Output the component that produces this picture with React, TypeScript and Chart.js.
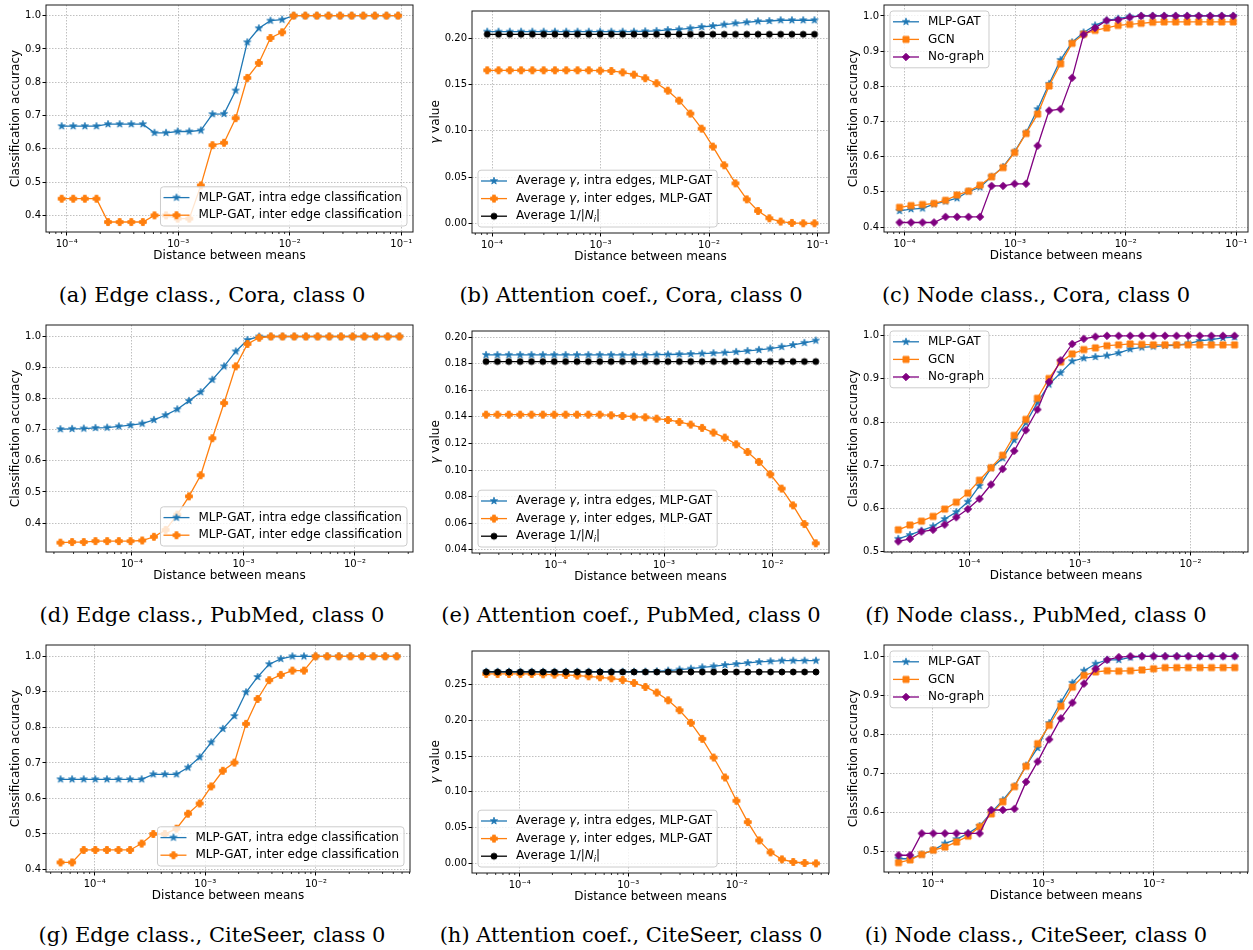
import React, { useEffect, useRef } from 'react';
import { Chart, registerables } from 'chart.js';

Chart.register(...registerables);

// ---------- x values (distance between means) ----------
const xCora = [9.02e-5, 1.146e-4, 1.456e-4, 1.85e-4, 2.351e-4, 2.987e-4, 3.795e-4, 4.822e-4, 6.127e-4, 7.785e-4,
  9.891e-4, 1.257e-3, 1.597e-3, 2.029e-3, 2.578e-3, 3.276e-3, 4.162e-3, 5.288e-3, 6.719e-3, 8.537e-3,
  1.085e-2, 1.378e-2, 1.751e-2, 2.225e-2, 2.827e-2, 3.592e-2, 4.564e-2, 5.799e-2, 7.368e-2, 9.362e-2];
const xPubMed = [2.286e-5, 2.91e-5, 3.704e-5, 4.715e-5, 6.001e-5, 7.639e-5, 9.724e-5, 1.2378e-4, 1.5756e-4, 2.0056e-4,
  2.5529e-4, 3.2496e-4, 4.1364e-4, 5.2652e-4, 6.7021e-4, 8.5311e-4, 1.0859e-3, 1.3823e-3, 1.7595e-3, 2.2397e-3,
  2.8509e-3, 3.6289e-3, 4.6192e-3, 5.8798e-3, 7.4844e-3, 9.5269e-3, 1.2127e-2, 1.5436e-2, 1.9649e-2, 2.5011e-2];
const xCiteSeer = [4.91e-5, 6.25e-5, 7.956e-5, 1.0127e-4, 1.289e-4, 1.6408e-4, 2.0886e-4, 2.6586e-4, 3.3841e-4, 4.3076e-4,
  5.4832e-4, 6.9796e-4, 8.8843e-4, 1.1309e-3, 1.4395e-3, 1.8324e-3, 2.3324e-3, 2.9689e-3, 3.7791e-3, 4.8105e-3,
  6.1232e-3, 7.7943e-3, 9.9213e-3, 1.2629e-2, 1.6075e-2, 2.0462e-2, 2.6046e-2, 3.3154e-2, 4.2202e-2, 5.3719e-2];

// ---------- tick values ----------
const xTicksCora = [1e-4, 1e-3, 1e-2, 1e-1];
const xTicksPubMed = [1e-4, 1e-3, 1e-2];
const xTicksCiteSeer = [1e-4, 1e-3, 1e-2];
const accTicks04 = [0.4, 0.5, 0.6, 0.7, 0.8, 0.9, 1.0];
const accTicks05 = [0.5, 0.6, 0.7, 0.8, 0.9, 1.0];
const gammaTicksCora = [0, 0.05, 0.1, 0.15, 0.2];
const gammaTicksPubMed = [0.04, 0.06, 0.08, 0.1, 0.12, 0.14, 0.16, 0.18, 0.2];
const gammaTicksCiteSeer = [0, 0.05, 0.1, 0.15, 0.2, 0.25];

// ---------- Cora ----------
const coraEdgeIntra = [0.668, 0.668, 0.668, 0.668, 0.674, 0.674, 0.674, 0.674, 0.648, 0.648, 0.652, 0.652, 0.655, 0.704, 0.705,
  0.775, 0.92, 0.962, 0.985, 0.988, 1, 1, 1, 1, 1, 1, 1, 1, 1, 1];
const coraEdgeInter = [0.45, 0.45, 0.45, 0.45, 0.38, 0.38, 0.38, 0.38, 0.4, 0.4, 0.39, 0.39, 0.49, 0.611, 0.618,
  0.692, 0.813, 0.858, 0.933, 0.95, 1, 1, 1, 1, 1, 1, 1, 1, 1, 1];
const coraAttIntra = [0.2072, 0.2072, 0.2072, 0.2072, 0.2072, 0.2072, 0.2072, 0.2072, 0.2072, 0.2072, 0.2072, 0.2072, 0.2072, 0.2072,
  0.2076, 0.208, 0.209, 0.2097, 0.2108, 0.2123, 0.2133, 0.2148, 0.2162, 0.2173, 0.2184, 0.2187, 0.2195, 0.2195, 0.2195, 0.2195];
const coraAttInter = [0.1654, 0.1654, 0.1654, 0.1654, 0.1654, 0.1654, 0.1654, 0.1654, 0.1654, 0.1654, 0.165, 0.1647, 0.1632, 0.1607,
  0.1568, 0.1514, 0.1434, 0.1326, 0.1186, 0.1023, 0.0829, 0.0627, 0.0432, 0.0259, 0.0133, 0.0054, 0.0018, 0.0004, 0, 0];
const coraAttDegree = [0.2043, 0.2043, 0.2043, 0.2043, 0.2043, 0.2043, 0.2043, 0.2043, 0.2043, 0.2043, 0.2043, 0.2043, 0.2043, 0.2043, 0.2043,
  0.2043, 0.2043, 0.2043, 0.2043, 0.2043, 0.2043, 0.2043, 0.2043, 0.2043, 0.2043, 0.2043, 0.2043, 0.2043, 0.2043, 0.2043];
const coraNodeMlp = [0.446, 0.451, 0.453, 0.465, 0.473, 0.482, 0.501, 0.513, 0.543, 0.571, 0.614, 0.668, 0.735, 0.807, 0.875,
  0.925, 0.953, 0.973, 0.987, 0.992, 0.998, 1, 1, 1, 1, 1, 1, 1, 1, 1];
const coraNodeGcn = [0.456, 0.461, 0.464, 0.467, 0.476, 0.491, 0.502, 0.519, 0.543, 0.569, 0.612, 0.666, 0.721, 0.801, 0.864,
  0.922, 0.948, 0.959, 0.966, 0.973, 0.976, 0.979, 0.982, 0.983, 0.983, 0.983, 0.983, 0.983, 0.983, 0.983];
const coraNodeNoGraph = [0.413, 0.413, 0.413, 0.413, 0.429, 0.429, 0.429, 0.429, 0.517, 0.517, 0.523, 0.523, 0.631, 0.731, 0.735,
  0.824, 0.947, 0.966, 0.987, 0.989, 0.996, 1, 1, 1, 1, 1, 1, 1, 1, 1];

// ---------- PubMed ----------
const pubEdgeIntra = [0.702, 0.703, 0.704, 0.706, 0.707, 0.711, 0.715, 0.72, 0.732, 0.747, 0.766, 0.793, 0.821, 0.861, 0.904,
  0.952, 0.989, 1, 1, 1, 1, 1, 1, 1, 1, 1, 1, 1, 1, 1];
const pubEdgeInter = [0.337, 0.339, 0.339, 0.342, 0.342, 0.342, 0.342, 0.344, 0.356, 0.378, 0.427, 0.486, 0.554, 0.673, 0.786,
  0.904, 0.976, 0.996, 1, 1, 1, 1, 1, 1, 1, 1, 1, 1, 1, 1];
const pubAttIntra = [0.1867, 0.1867, 0.1867, 0.1867, 0.1867, 0.1867, 0.1867, 0.1867, 0.1867, 0.1867, 0.1867, 0.1867, 0.1867, 0.1867, 0.1867,
  0.1869, 0.187, 0.1872, 0.1874, 0.1877, 0.188, 0.1884, 0.189, 0.1897, 0.1905, 0.1915, 0.1928, 0.1942, 0.1958, 0.1975];
const pubAttInter = [0.1417, 0.1417, 0.1417, 0.1417, 0.1417, 0.1417, 0.1417, 0.1417, 0.1417, 0.1417, 0.1417, 0.1412, 0.1407, 0.1402, 0.1397,
  0.1387, 0.1377, 0.1362, 0.1342, 0.1317, 0.1282, 0.1244, 0.1194, 0.1136, 0.1061, 0.0968, 0.086, 0.0734, 0.0593, 0.0448];
const pubAttDegree = [0.1817, 0.1817, 0.1817, 0.1817, 0.1817, 0.1817, 0.1817, 0.1817, 0.1817, 0.1817, 0.1817, 0.1817, 0.1817, 0.1817, 0.1817,
  0.1817, 0.1817, 0.1817, 0.1817, 0.1817, 0.1817, 0.1817, 0.1817, 0.1817, 0.1817, 0.1817, 0.1817, 0.1817, 0.1817, 0.1817];
const pubNodeMlp = [0.529, 0.538, 0.548, 0.558, 0.575, 0.591, 0.615, 0.652, 0.693, 0.716, 0.758, 0.798, 0.845, 0.887, 0.914,
  0.941, 0.948, 0.951, 0.954, 0.96, 0.969, 0.973, 0.975, 0.977, 0.978, 0.982, 0.988, 0.991, 0.995, 0.997];
const pubNodeGcn = [0.55, 0.561, 0.57, 0.581, 0.598, 0.614, 0.635, 0.665, 0.694, 0.723, 0.769, 0.806, 0.855, 0.901, 0.939,
  0.958, 0.968, 0.972, 0.977, 0.979, 0.981, 0.98, 0.979, 0.979, 0.979, 0.979, 0.979, 0.979, 0.979, 0.979];
const pubNodeNoGraph = [0.523, 0.529, 0.546, 0.55, 0.562, 0.579, 0.598, 0.622, 0.655, 0.691, 0.733, 0.781, 0.829, 0.893, 0.943,
  0.981, 0.993, 0.998, 1, 1, 1, 1, 1, 1, 1, 1, 1, 1, 1, 1];

// ---------- CiteSeer ----------
const citeEdgeIntra = [0.654, 0.654, 0.654, 0.654, 0.654, 0.654, 0.654, 0.654, 0.668, 0.668, 0.668, 0.687, 0.716, 0.758, 0.796,
  0.832, 0.899, 0.942, 0.978, 0.993, 1, 1, 1, 1, 1, 1, 1, 1, 1, 1];
const citeEdgeInter = [0.42, 0.42, 0.455, 0.455, 0.455, 0.455, 0.455, 0.473, 0.5, 0.5, 0.515, 0.557, 0.586, 0.634, 0.678,
  0.701, 0.81, 0.88, 0.933, 0.948, 0.96, 0.96, 1, 1, 1, 1, 1, 1, 1, 1];
const citeAttIntra = [0.268, 0.268, 0.268, 0.268, 0.268, 0.268, 0.268, 0.268, 0.268, 0.268, 0.268, 0.268, 0.268, 0.268,
  0.2682, 0.2686, 0.2696, 0.271, 0.2723, 0.2742, 0.2756, 0.2775, 0.2789, 0.2803, 0.2817, 0.2826, 0.2835, 0.2835, 0.2835, 0.2835];
const citeAttInter = [0.2649, 0.2649, 0.2649, 0.2649, 0.2649, 0.2644, 0.264, 0.2635, 0.2626, 0.2616, 0.2602, 0.2588, 0.2565, 0.2523, 0.2467,
  0.2388, 0.2281, 0.2142, 0.1965, 0.1741, 0.148, 0.1201, 0.0875, 0.0577, 0.0321, 0.0154, 0.0056, 0.0019, 0.0005, 0];
const citeAttDegree = [0.2677, 0.2677, 0.2677, 0.2677, 0.2677, 0.2677, 0.2677, 0.2677, 0.2677, 0.2677, 0.2677, 0.2677, 0.2677, 0.2677, 0.2677,
  0.2677, 0.2677, 0.2677, 0.2677, 0.2677, 0.2677, 0.2677, 0.2677, 0.2677, 0.2677, 0.2677, 0.2677, 0.2677, 0.2677, 0.2677];
const citeNodeMlp = [0.481, 0.481, 0.492, 0.503, 0.52, 0.531, 0.546, 0.565, 0.599, 0.631, 0.667, 0.72, 0.765, 0.829, 0.882,
  0.932, 0.963, 0.981, 0.991, 0.991, 0.997, 1, 1, 1, 1, 1, 1, 1, 1, 1];
const citeNodeGcn = [0.471, 0.478, 0.492, 0.503, 0.511, 0.524, 0.539, 0.563, 0.596, 0.627, 0.666, 0.718, 0.776, 0.823, 0.872,
  0.921, 0.951, 0.96, 0.963, 0.962, 0.963, 0.965, 0.968, 0.971, 0.971, 0.971, 0.971, 0.971, 0.971, 0.971];
const citeNodeNoGraph = [0.49, 0.49, 0.546, 0.546, 0.546, 0.546, 0.546, 0.546, 0.606, 0.606, 0.609, 0.678, 0.73, 0.787, 0.841,
  0.881, 0.93, 0.968, 0.991, 0.998, 1, 1, 1, 1, 1, 1, 1, 1, 1, 1];

// ---------- labels ----------
const captions = [
  '(a) Edge class., Cora, class 0', '(b) Attention coef., Cora, class 0', '(c) Node class., Cora, class 0',
  '(d) Edge class., PubMed, class 0', '(e) Attention coef., PubMed, class 0', '(f) Node class., PubMed, class 0',
  '(g) Edge class., CiteSeer, class 0', '(h) Attention coef., CiteSeer, class 0', '(i) Node class., CiteSeer, class 0',
];

type Seg = { t: string; it?: boolean; sub?: boolean };
type Marker = 'star' | 'plus' | 'circle' | 'square' | 'diamond';
type Series = { label: Seg[]; data: number[]; color: string; marker: Marker };
type PanelCfg = {
  col: number; frame: { L: number; R: number; T: number; B: number };
  x: number[]; xMin: number; xMax: number; xTicks: number[];
  yMin: number; yMax: number; yTicks: number[]; yDec: number;
  yTitle: Seg[]; series: Series[]; legendPos: 'lr' | 'll' | 'ul';
};

const BLUE = '#1f77b4';
const ORANGE = '#ff7f0e';
const PURPLE = '#800080';
const BLACK = '#000000';
const FONT = '"DejaVu Sans", sans-serif';

const accTitle: Seg[] = [{ t: 'Classification accuracy' }];
const gammaTitle: Seg[] = [{ t: 'γ', it: true }, { t: ' value' }];
const edgeSeries = (intra: number[], inter: number[]): Series[] => [
  { label: [{ t: 'MLP-GAT, intra edge classification' }], data: intra, color: BLUE, marker: 'star' },
  { label: [{ t: 'MLP-GAT, inter edge classification' }], data: inter, color: ORANGE, marker: 'plus' },
];
const attSeries = (intra: number[], inter: number[], deg: number[]): Series[] => [
  { label: [{ t: 'Average ' }, { t: 'γ', it: true }, { t: ', intra edges, MLP-GAT' }], data: intra, color: BLUE, marker: 'star' },
  { label: [{ t: 'Average ' }, { t: 'γ', it: true }, { t: ', inter edges, MLP-GAT' }], data: inter, color: ORANGE, marker: 'plus' },
  { label: [{ t: 'Average 1/|' }, { t: 'N', it: true }, { t: 'i', it: true, sub: true }, { t: '|' }], data: deg, color: BLACK, marker: 'circle' },
];
const nodeSeries = (mlp: number[], gcn: number[], no: number[]): Series[] => [
  { label: [{ t: 'MLP-GAT' }], data: mlp, color: BLUE, marker: 'star' },
  { label: [{ t: 'GCN' }], data: gcn, color: ORANGE, marker: 'square' },
  { label: [{ t: 'No-graph' }], data: no, color: PURPLE, marker: 'diamond' },
];

const rowX = [
  { x: xCora, xMin: 6.53e-5, xMax: 0.1274, xTicks: xTicksCora },
  { x: xPubMed, xMin: 1.698e-5, xMax: 3.311e-2, xTicks: xTicksPubMed },
  { x: xCiteSeer, xMin: 3.63e-5, xMax: 7.08e-2, xTicks: xTicksCiteSeer },
];

const panels: PanelCfg[] = [
  { col: 0, frame: { L: 46, R: 413, T: 5, B: 232 }, ...rowX[0], yMin: 0.35, yMax: 1.032, yTicks: accTicks04, yDec: 1,
    yTitle: accTitle, series: edgeSeries(coraEdgeIntra, coraEdgeInter), legendPos: 'lr' },
  { col: 1, frame: { L: 472, R: 829, T: 11, B: 233 }, ...rowX[0], yMin: -0.0105, yMax: 0.2295, yTicks: gammaTicksCora, yDec: 2,
    yTitle: gammaTitle, series: attSeries(coraAttIntra, coraAttInter, coraAttDegree), legendPos: 'll' },
  { col: 2, frame: { L: 884, R: 1248, T: 5, B: 232 }, ...rowX[0], yMin: 0.386, yMax: 1.031, yTicks: accTicks04, yDec: 1,
    yTitle: accTitle, series: nodeSeries(coraNodeMlp, coraNodeGcn, coraNodeNoGraph), legendPos: 'ul' },
  { col: 0, frame: { L: 46, R: 413, T: 325, B: 552 }, ...rowX[1], yMin: 0.307, yMax: 1.037, yTicks: accTicks04, yDec: 1,
    yTitle: accTitle, series: edgeSeries(pubEdgeIntra, pubEdgeInter), legendPos: 'lr' },
  { col: 1, frame: { L: 472, R: 829, T: 331, B: 553 }, ...rowX[1], yMin: 0.0375, yMax: 0.2047, yTicks: gammaTicksPubMed, yDec: 2,
    yTitle: gammaTitle, series: attSeries(pubAttIntra, pubAttInter, pubAttDegree), legendPos: 'll' },
  { col: 2, frame: { L: 884, R: 1248, T: 325, B: 552 }, ...rowX[1], yMin: 0.4985, yMax: 1.025, yTicks: accTicks05, yDec: 1,
    yTitle: accTitle, series: nodeSeries(pubNodeMlp, pubNodeGcn, pubNodeNoGraph), legendPos: 'ul' },
  { col: 0, frame: { L: 46, R: 410, T: 645, B: 872 }, ...rowX[2], yMin: 0.393, yMax: 1.032, yTicks: accTicks04, yDec: 1,
    yTitle: accTitle, series: edgeSeries(citeEdgeIntra, citeEdgeInter), legendPos: 'lr' },
  { col: 1, frame: { L: 472, R: 829, T: 651, B: 873 }, ...rowX[2], yMin: -0.0135, yMax: 0.297, yTicks: gammaTicksCiteSeer, yDec: 2,
    yTitle: gammaTitle, series: attSeries(citeAttIntra, citeAttInter, citeAttDegree), legendPos: 'll' },
  { col: 2, frame: { L: 884, R: 1248, T: 645, B: 872 }, ...rowX[2], yMin: 0.447, yMax: 1.029, yTicks: accTicks05, yDec: 1,
    yTitle: accTitle, series: nodeSeries(citeNodeMlp, citeNodeGcn, citeNodeNoGraph), legendPos: 'ul' },
];

const COLS = [[0, 420], [420, 835], [835, 1253]];
const Y_TITLE_X = [16, 436, 854];
const X_TITLE_GAP = 23.7;
const CAPTION_X = [212, 631, 1036];
const CAPTION_Y = [295, 615, 935];

// ---------- helpers ----------
const SUP: Record<string, string> = { '-': '⁻', '0': '⁰', '1': '¹', '2': '²', '3': '³', '4': '⁴', '5': '⁵', '6': '⁶', '7': '⁷', '8': '⁸', '9': '⁹' };
const fmtPow = (v: number) => '10' + String(Math.round(Math.log10(v))).split('').map((ch) => SUP[ch] || ch).join('');

function makeMarker(kind: Marker, color: string): HTMLCanvasElement {
  const c = document.createElement('canvas');
  c.width = 14; c.height = 14;
  const g = c.getContext('2d')!;
  g.translate(7, 7);
  g.fillStyle = color; g.strokeStyle = color; g.lineWidth = 1; g.lineJoin = 'miter';
  g.beginPath();
  if (kind === 'star') {
    const R = 3.8, r = R * 0.381966;
    for (let k = 0; k < 10; k++) {
      const rad = k % 2 ? r : R;
      const ang = -Math.PI / 2 + (k * Math.PI) / 5;
      const px = rad * Math.cos(ang), py = rad * Math.sin(ang);
      if (k === 0) g.moveTo(px, py); else g.lineTo(px, py);
    }
    g.lineWidth = 0.8;
  } else if (kind === 'plus') {
    const h = 3.4, a = 1.4;
    const pts = [[-a, -h], [a, -h], [a, -a], [h, -a], [h, a], [a, a], [a, h], [-a, h], [-a, a], [-h, a], [-h, -a], [-a, -a]];
    pts.forEach(([px, py], k) => (k === 0 ? g.moveTo(px, py) : g.lineTo(px, py)));
  } else if (kind === 'circle') {
    g.arc(0, 0, 3, 0, Math.PI * 2);
  } else if (kind === 'square') {
    g.rect(-3, -3, 6, 6);
  } else {
    const d = 3.7;
    g.moveTo(0, -d); g.lineTo(d, 0); g.lineTo(0, d); g.lineTo(-d, 0);
  }
  g.closePath(); g.fill(); g.stroke();
  return c;
}

const segFont = (s: Seg, size: number) => `${s.it ? 'italic ' : ''}${s.sub ? size * 0.7 : size}px ${FONT}`;
function measureSegs(ctx: CanvasRenderingContext2D, segs: Seg[], size: number) {
  let w = 0;
  for (const s of segs) { ctx.font = segFont(s, size); w += ctx.measureText(s.t).width; }
  return w;
}
function drawSegs(ctx: CanvasRenderingContext2D, segs: Seg[], x: number, y: number, size: number) {
  ctx.textBaseline = 'middle'; ctx.textAlign = 'left'; ctx.fillStyle = '#000';
  let cx = x;
  for (const s of segs) {
    ctx.font = segFont(s, size);
    ctx.fillText(s.t, cx, s.sub ? y + size * 0.3 : y);
    cx += ctx.measureText(s.t).width;
  }
}

function makeDecor(p: PanelCfg, markers: HTMLCanvasElement[], yTitleX: number, xTitleY: number) {
  return {
    id: 'decor',
    afterDatasetsDraw(chart: any) {
      const ctx: CanvasRenderingContext2D = chart.ctx;
      const a = chart.chartArea;
      ctx.save();
      // frame
      ctx.strokeStyle = '#1a1a1a'; ctx.lineWidth = 1;
      ctx.strokeRect(a.left, a.top, a.right - a.left, a.bottom - a.top);
      // minor ticks on log axis
      const xs = chart.scales.x;
      ctx.beginPath();
      for (let k = -6; k <= 0; k++) {
        for (let m = 2; m <= 9; m++) {
          const v = m * Math.pow(10, k);
          if (v <= xs.min || v >= xs.max) continue;
          const px = xs.getPixelForValue(v);
          ctx.moveTo(px, a.bottom); ctx.lineTo(px, a.bottom + 2);
        }
      }
      ctx.lineWidth = 0.8; ctx.strokeStyle = '#000'; ctx.stroke();
      // axis titles
      ctx.save();
      ctx.translate(yTitleX, (a.top + a.bottom) / 2);
      ctx.rotate(-Math.PI / 2);
      const tw = measureSegs(ctx, p.yTitle, 12);
      drawSegs(ctx, p.yTitle, -tw / 2, 0, 12);
      ctx.restore();
      ctx.font = `12px ${FONT}`; ctx.fillStyle = '#000'; ctx.textAlign = 'center'; ctx.textBaseline = 'middle';
      ctx.fillText('Distance between means', (a.left + a.right) / 2, xTitleY);
      // legend
      const n = p.series.length;
      const rowH = 17.6, padV = 2, padL = 3, handle = 26, gap = 9, padR = 5, inset = 6;
      const textW = Math.max(...p.series.map((s) => measureSegs(ctx, s.label, 12)));
      const bw = padL + handle + gap + textW + padR;
      const bh = n * rowH + padV * 2;
      let bx = a.left + inset, by = a.top + inset;
      if (p.legendPos === 'lr') { bx = a.right - inset - bw; by = a.bottom - inset - bh; }
      if (p.legendPos === 'll') { by = a.bottom - inset - bh; }
      ctx.beginPath();
      (ctx as any).roundRect(bx, by, bw, bh, 3);
      ctx.fillStyle = 'rgba(255,255,255,0.8)'; ctx.fill();
      ctx.strokeStyle = '#cccccc'; ctx.lineWidth = 1; ctx.stroke();
      p.series.forEach((s, i) => {
        const cy = by + padV + rowH * (i + 0.5);
        const hx = bx + padL;
        ctx.beginPath(); ctx.moveTo(hx, cy); ctx.lineTo(hx + handle, cy);
        ctx.strokeStyle = s.color; ctx.lineWidth = 1.3; ctx.stroke();
        ctx.drawImage(markers[i], hx + handle / 2 - 7, cy - 7);
        drawSegs(ctx, s.label, hx + handle + gap, cy, 12);
      });
      ctx.restore();
    },
  };
}

function PanelChart({ p }: { p: PanelCfg }) {
  const ref = useRef<HTMLCanvasElement>(null);
  const [c0, c1] = COLS[p.col];
  const top = p.frame.T - 10;
  const height = p.frame.B + 34 - top;
  const width = c1 - c0;
  useEffect(() => {
    const canvas = ref.current!;
    const markers = p.series.map((s) => makeMarker(s.marker, s.color));
    const inRange = (v: number, lo: number, hi: number) => v >= lo - 1e-9 && v <= hi + 1e-9;
    const chart = new Chart(canvas, {
      type: 'line',
      data: {
        datasets: p.series.map((s, i) => ({
          label: s.label.map((g) => g.t).join(''),
          data: p.x.map((xv, k) => ({ x: xv, y: s.data[k] })),
          borderColor: s.color,
          backgroundColor: s.color,
          borderWidth: 1.3,
          pointStyle: markers[i] as any,
          pointRadius: 4,
          pointHoverRadius: 4,
          tension: 0,
          fill: false,
          order: 10 - i,
        })),
      },
      options: {
        animation: false,
        responsive: false,
        devicePixelRatio: 1,
        events: [],
        layout: { padding: { left: 0, top: p.frame.T - top, right: c1 - p.frame.R, bottom: 0 }, autoPadding: false } as any,
        plugins: { legend: { display: false }, tooltip: { enabled: false } },
        scales: {
          x: {
            type: 'logarithmic',
            position: 'bottom',
            min: p.xMin,
            max: p.xMax,
            afterBuildTicks: (s: any) => { s.ticks = p.xTicks.filter((v) => inRange(v, p.xMin, p.xMax)).map((v) => ({ value: v })); },
            afterFit: (s: any) => { s.height = 34; s.paddingLeft = 0; s.paddingRight = 0; s.paddingTop = 0; s.paddingBottom = 0; },
            ticks: { autoSkip: false, maxRotation: 0, minRotation: 0, padding: 3, color: '#000', font: { family: FONT, size: 10 },
              callback: (v: any) => fmtPow(Number(v)) },
            grid: { color: '#b0b0b0', lineWidth: 0.8, drawTicks: true, tickLength: 3.5, tickColor: '#000', tickWidth: 1 },
            border: { display: false, dash: [1.5, 1.5] },
            title: { display: false },
          },
          y: {
            type: 'linear',
            position: 'left',
            min: p.yMin,
            max: p.yMax,
            afterBuildTicks: (s: any) => { s.ticks = p.yTicks.filter((v) => inRange(v, p.yMin, p.yMax)).map((v) => ({ value: v })); },
            afterFit: (s: any) => { s.width = p.frame.L - c0; s.paddingLeft = 0; s.paddingRight = 0; s.paddingTop = 0; s.paddingBottom = 0; },
            ticks: { autoSkip: false, padding: 1.5, color: '#000', font: { family: FONT, size: 10 },
              callback: (v: any) => Number(v).toFixed(p.yDec) },
            grid: { color: '#b0b0b0', lineWidth: 0.8, drawTicks: true, tickLength: 3.5, tickColor: '#000', tickWidth: 1 },
            border: { display: false, dash: [1.5, 1.5] },
            title: { display: false },
          },
        },
      } as any,
      plugins: [makeDecor(p, markers, Y_TITLE_X[p.col] - c0, p.frame.B + X_TITLE_GAP - top)],
    });
    return () => chart.destroy();
  }, []);
  return (
    <canvas ref={ref} width={width} height={height}
      style={{ position: 'absolute', left: c0, top, width, height, display: 'block' }} />
  );
}

export default function App() {
  return (
    <div style={{ position: 'absolute', left: 0, top: 0, width: 1253, height: 950, background: '#fff', overflow: 'hidden' }}>
      {panels.map((p, i) => <PanelChart key={i} p={p} />)}
      {captions.map((c, i) => (
        <div key={'c' + i} style={{
          position: 'absolute', left: CAPTION_X[i % 3] - 220, top: CAPTION_Y[Math.floor(i / 3)] - 13, width: 440, height: 26,
          lineHeight: '26px', textAlign: 'center', fontFamily: '"DejaVu Serif", serif', fontSize: 21, color: '#000', whiteSpace: 'nowrap',
        }}>{c}</div>
      ))}
    </div>
  );
}
